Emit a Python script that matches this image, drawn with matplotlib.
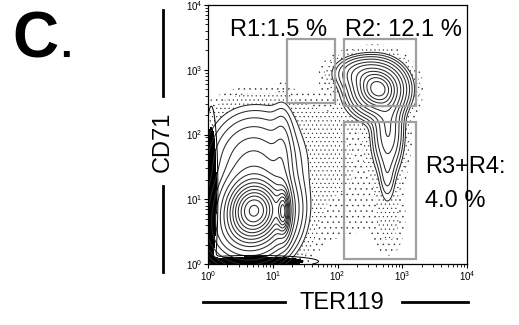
import numpy as np
import matplotlib
matplotlib.use('Agg')
import matplotlib.pyplot as plt
from matplotlib.lines import Line2D
from matplotlib.patches import Rectangle

plt.rcParams['font.family'] = ['Liberation Sans', 'DejaVu Sans']
plt.rcParams['hatch.color'] = '#222222'
plt.rcParams['hatch.linewidth'] = 0.3

# cell populations, log10 units (TER119 x, CD71 y), peak height w
pop_x = [0.72, 1.17, 0.70, 0.60, 1.15, 2.62, 2.35, 2.78, 2.77]
pop_y = [0.86, 0.80, 1.60, 0.45, 1.60, 2.70, 2.95, 2.05, 1.35]
pop_sx = [0.30, 0.06, 0.38, 0.35, 0.09, 0.22, 0.22, 0.13, 0.07]
pop_sy = [0.30, 0.22, 0.40, 0.28, 0.45, 0.21, 0.14, 0.35, 0.22]
pop_w = [1.00, 0.50, 0.20, 0.30, 0.08, 0.70, 0.15, 0.20, 0.05]

# sparse events shown as dots
sparse_x = [2.00, 1.00, 2.80]
sparse_y = [1.50, 2.30, 0.70]
sparse_sx = [0.55, 0.60, 0.15]
sparse_sy = [0.80, 0.20, 0.35]
sparse_w = [0.010, 0.008, 0.012]

# events piled on the axes
axis_x = [0.05, 0.72]
axis_y = [1.10, 0.04]
axis_sx = [0.05, 0.48]
axis_sy = [0.65, 0.045]

# gates (data units): x0, x1, y0, y1
gate_names = ['R1', 'R2', 'R3+R4']
gate_x0 = [16.4, 128, 128]
gate_x1 = [90, 1640, 1640]
gate_y0 = [310, 280, 1.2]
gate_y1 = [3000, 3000, 158]


def mix(X, Y, mx, my, sx, sy, w):
    Z = np.zeros_like(X)
    for a, b, c, d, e in zip(mx, my, sx, sy, w):
        Z += e * np.exp(-((X - a) ** 2 / (2 * c ** 2) + (Y - b) ** 2 / (2 * d ** 2)))
    return Z


lx = np.linspace(0, 4, 500)
ly = np.linspace(0, 4, 500)
LX, LY = np.meshgrid(lx, ly)
dens = mix(LX, LY, pop_x, pop_y, pop_sx, pop_sy, pop_w)
sparse = mix(LX, LY, sparse_x, sparse_y, sparse_sx, sparse_sy, sparse_w)
axis_d = mix(LX, LY, axis_x, axis_y, axis_sx, axis_sy, [1, 1])
X, Y = 10 ** LX, 10 ** LY

fig = plt.figure(figsize=(5.19, 3.25), dpi=100)
ax = fig.add_axes([208 / 519, 1 - 264 / 325, 259 / 519, 259 / 325])

tot = dens + sparse
ax.contourf(X, Y, tot, levels=[0.004, 0.009, 0.025], colors='none', hatches=['...', '....'])
levels = np.concatenate([np.geomspace(0.025, 0.14, 5), np.linspace(0.2, 1.2, 12)])
ax.contour(X, Y, tot, levels=levels, colors='#2a2a2a', linewidths=0.75)
ax.contourf(X, Y, axis_d, levels=[0.3, 10], colors='black')
ax.contour(X, Y, axis_d, levels=[0.12], colors='black', linewidths=0.7)

for a, b, c, d in zip(gate_x0, gate_x1, gate_y0, gate_y1):
    ax.add_patch(Rectangle((a, c), b - a, d - c, fill=False, ec='#a0a0a0', lw=1.6, zorder=5))

ax.set_xscale('log')
ax.set_yscale('log')
ax.set_xlim(1, 1e4)
ax.set_ylim(1, 1e4)
ax.tick_params(labelsize=7, length=3, width=0.8, pad=1)
ax.tick_params(which='minor', length=2, width=0.6)
for s in ax.spines.values():
    s.set_linewidth(0.9)

# gate labels
fig.text(230 / 519, 1 - 36 / 325, 'R1:1.5 %', fontsize=17, va='baseline')
fig.text(345 / 519, 1 - 36 / 325, 'R2: 12.1 %', fontsize=17, va='baseline')
fig.text(425 / 519, 1 - 173 / 325, 'R3+R4:', fontsize=17, va='baseline')
fig.text(425 / 519, 1 - 207 / 325, '4.0 %', fontsize=17, va='baseline')

# axis titles with lines
fig.text(163 / 519, 1 - 142 / 325, 'CD71', fontsize=17, rotation=90, ha='center', va='center')
fig.add_artist(Line2D([163 / 519, 163 / 519], [1 - 10 / 325, 1 - 96 / 325], color='black', lw=2))
fig.add_artist(Line2D([163 / 519, 163 / 519], [1 - 186 / 325, 1 - 272 / 325], color='black', lw=2))
fig.text(342 / 519, 1 - 303 / 325, 'TER119', fontsize=17, ha='center', va='center')
fig.add_artist(Line2D([203 / 519, 285 / 519], [1 - 302 / 325, 1 - 302 / 325], color='black', lw=2))
fig.add_artist(Line2D([402 / 519, 468 / 519], [1 - 302 / 325, 1 - 302 / 325], color='black', lw=2))

fig.text(12 / 519, 1 - 57 / 325, 'C', fontsize=46, fontweight='bold', va='baseline')
fig.text(60 / 519, 1 - 57 / 325, '.', fontsize=30, fontweight='bold', va='baseline')

fig.savefig('out.png', dpi=100)
